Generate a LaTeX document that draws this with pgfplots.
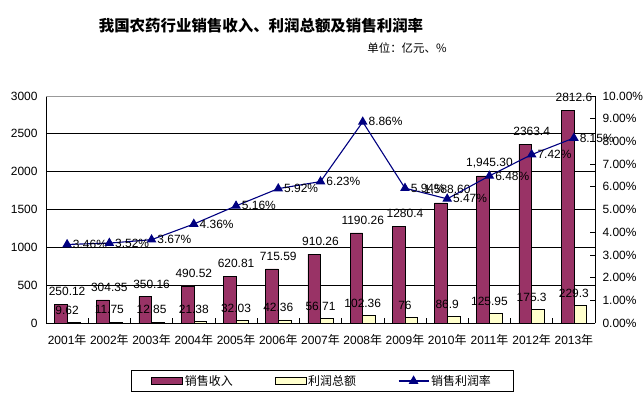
\documentclass[border=0pt]{standalone}
\usepackage{pgfplots}
\pgfplotsset{compat=1.18}
\usepackage{fontspec}
\setmainfont{Liberation Sans}
\newfontfamily\cjk{Noto Sans CJK SC}
\definecolor{barmaroon}{HTML}{993366}
\definecolor{baryel}{HTML}{FFFFCC}
\definecolor{navyline}{HTML}{000080}
\newcommand\lf{\fontsize{12}{14}\selectfont}
\pgfplotsset{
  barlegend/.style={legend image code/.code={\draw[##1] (0bp,-3.3bp) rectangle (31bp,3.3bp);}},
  linelegend/.style={legend image code/.code={\draw[mark repeat=2,mark phase=2,##1] plot coordinates {(0bp,0bp) (15bp,0bp) (30bp,0bp)};}},
}
\begin{document}
\begin{tikzpicture}[x=1bp,y=1bp]
\path[use as bounding box] (0,0) rectangle (644,396);
\node[font=\cjk\bfseries\fontsize{15.5}{18}\selectfont] at (261,370) {我国农药行业销售收入、利润总额及销售利润率};
\node[font=\cjk\fontsize{11.5}{14}\selectfont] at (407,348) {单位：亿元、\%};
\begin{axis}[
  at={(46bp,73bp)}, anchor=south west,
  scale only axis, width=549bp, height=227bp,
  xmin=-0.5, xmax=12.5, ymin=0, ymax=3000,
  axis x line*=bottom, axis y line*=left,
  axis line style={-, black, line width=0.8bp},
  ytick={0,500,1000,1500,2000,2500},
  yticklabels={0,500,1000,1500,2000,2500},
  extra y ticks={3000}, extra y tick labels={3000},
  extra y tick style={major grid style={gray!80, line width=0.8bp}},
  ymajorgrids, major grid style={black, line width=0.7bp},
  major y tick style={draw=none},
  yticklabel style={font=\lf, xshift=-5bp},
  xtick={0,...,12},
  xticklabels={2001{\cjk 年},2002{\cjk 年},2003{\cjk 年},2004{\cjk 年},2005{\cjk 年},2006{\cjk 年},2007{\cjk 年},2008{\cjk 年},2009{\cjk 年},2010{\cjk 年},2011{\cjk 年},2012{\cjk 年},2013{\cjk 年}},
  major x tick style={draw=none},
  minor xtick={-0.5,0.5,...,12.5},
  minor x tick style={black, line width=0.7bp},
  minor tick length=5bp,
  tick align=inside,
  xticklabel style={font=\lf, yshift=-8bp},
  clip=false,
  legend style={at={(0.503,-0.2555)}, anchor=center, legend columns=3,
    draw=black, line width=0.8bp, font=\lf\cjk,
    inner xsep=20bp, inner ysep=3bp, nodes={inner sep=2bp},
    /tikz/every even column/.append style={column sep=40bp}},
]
\addplot[ybar, bar width=12.7bp, bar shift=-6.35bp, fill=barmaroon, draw=black, line width=0.5bp,
  barlegend,
  nodes near coords, point meta=explicit symbolic,
  every node near coord/.append style={font=\lf, anchor=south, yshift=4.5bp, text=black}]
coordinates {
(0,250.12)[250.12] (1,304.35)[304.35] (2,350.16)[350.16] (3,490.52)[490.52]
(4,620.81)[620.81] (5,715.59)[715.59] (6,910.26)[910.26] (7,1190.26)[1190.26]
(8,1280.4)[1280.4] (9,1588.60)[1{,}588.60] (10,1945.30)[1{,}945.30] (11,2363.4)[2363.4]
(12,2812.6)[2812.6]
};
\addplot[ybar, bar width=12.7bp, bar shift=6.35bp, fill=baryel, draw=black, line width=0.5bp,
  barlegend,
  nodes near coords, point meta=explicit symbolic,
  every node near coord/.append style={font=\lf, anchor=south, yshift=4.5bp, text=black}]
coordinates {
(0,9.62)[9.62] (1,11.75)[11.75] (2,12.85)[12.85] (3,21.38)[21.38]
(4,32.03)[32.03] (5,42.36)[42.36] (6,56.71)[56.71] (7,102.36)[102.36]
(8,76)[76] (9,86.9)[86.9] (10,125.95)[125.95] (11,175.3)[175.3]
(12,229.3)[229.3]
};
\addlegendimage{sharp plot, navyline, line width=1.1bp, mark=triangle*, mark size=4.5bp, linelegend}
\legend{销售收入,利润总额,销售利润率}
\end{axis}
\begin{axis}[
  at={(46bp,73bp)}, anchor=south west,
  scale only axis, width=549bp, height=227bp,
  xmin=-0.5, xmax=12.5, ymin=0, ymax=10,
  axis x line=none, axis y line*=right,
  axis line style={-, black, line width=0.8bp},
  ytick={0,1,2,3,4,5,6,7,8,9,10},
  yticklabels={0.00\%,1.00\%,2.00\%,3.00\%,4.00\%,5.00\%,6.00\%,7.00\%,8.00\%,9.00\%,10.00\%},
  tick align=inside, major tick length=5bp,
  major y tick style={black, line width=0.7bp},
  yticklabel style={font=\lf, xshift=4bp},
  clip=false,
]
\addplot[navyline, line width=1.1bp, mark=triangle*, mark size=4.5bp,
  nodes near coords, point meta=explicit symbolic,
  every node near coord/.append style={font=\lf, anchor=west, xshift=2bp, text=black}]
coordinates {
(0,3.46)[3.46\%] (1,3.52)[3.52\%] (2,3.67)[3.67\%] (3,4.36)[4.36\%]
(4,5.16)[5.16\%] (5,5.92)[5.92\%] (6,6.23)[6.23\%] (7,8.86)[8.86\%]
(8,5.94)[5.94\%] (9,5.47)[5.47\%] (10,6.48)[6.48\%] (11,7.42)[7.42\%]
(12,8.15)[8.15\%]
};
\end{axis}
\end{tikzpicture}
\end{document}
